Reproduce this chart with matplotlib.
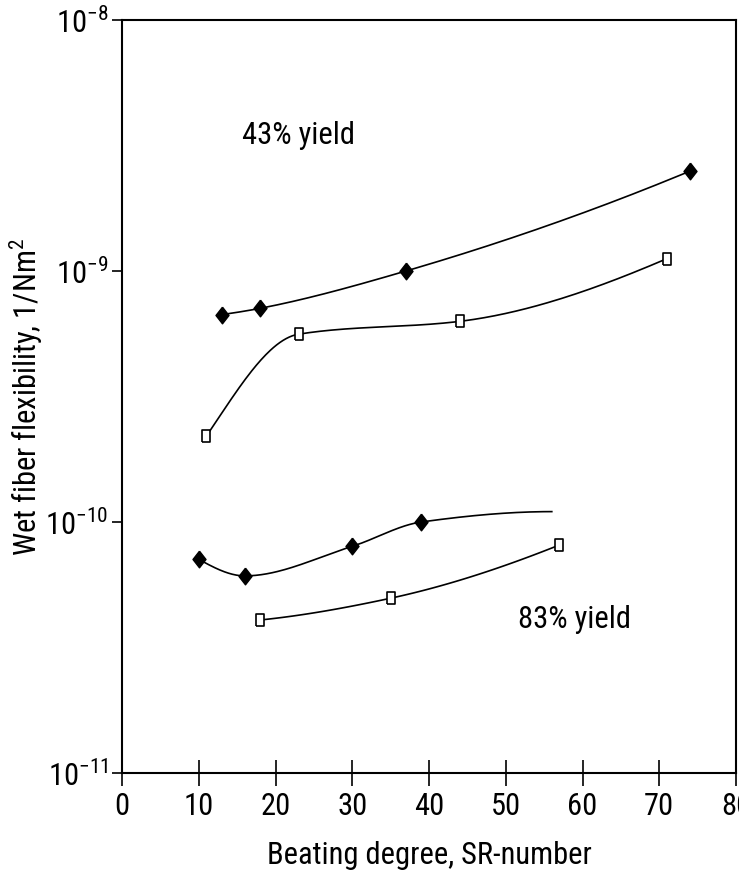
import numpy as np
import matplotlib
matplotlib.use('Agg')
from matplotlib import pyplot as plt
from matplotlib import ticker

FONT = 'Roboto Condensed'
FS = 22

plt.rcParams['font.family'] = [FONT, 'DejaVu Sans']
plt.rcParams['mathtext.fontset'] = 'custom'
plt.rcParams['mathtext.rm'] = FONT
plt.rcParams['mathtext.it'] = FONT
plt.rcParams['mathtext.default'] = 'regular'
plt.rcParams['axes.unicode_minus'] = False

# 43% yield
x43_dia = [13, 18, 37, 74]
y43_dia = [6.7e-10, 7.1e-10, 1.0e-9, 2.5e-9]
x43_sq = [11, 23, 44, 71]
y43_sq = [2.2e-10, 5.6e-10, 6.3e-10, 1.12e-9]

# 83% yield (diamond curve runs on past the last point)
x83_dia = [10, 16, 30, 39]
y83_dia = [7.1e-11, 6.1e-11, 8.0e-11, 1.0e-10]
x83_dia_end = 56
y83_dia_end = 1.1e-10
x83_sq = [18, 35, 57]
y83_sq = [4.07e-11, 4.97e-11, 8.1e-11]

xticks = [0, 10, 20, 30, 40, 50, 60, 70, 80]

# monotone cubic (pchip) through the points, in log space
def edge(h0, h1, d0, d1):
	m = ((2 * h0 + h1) * d0 - h0 * d1) / (h0 + h1)
	if np.sign(m) != np.sign(d0):
		m = 0.0
	elif np.sign(d0) != np.sign(d1) and abs(m) > abs(3 * d0):
		m = 3 * d0
	return m

def smooth(xs, ys, n=60):
	x = np.array(xs, float)
	y = np.log10(np.array(ys, float))
	h = np.diff(x)
	d = np.diff(y) / h
	k = len(x)
	m = np.zeros(k)
	for i in range(1, k - 1):
		if d[i - 1] * d[i] > 0:
			w1 = 2 * h[i] + h[i - 1]
			w2 = h[i] + 2 * h[i - 1]
			m[i] = (w1 + w2) / (w1 / d[i - 1] + w2 / d[i])
	m[0] = edge(h[0], h[1], d[0], d[1])
	m[-1] = edge(h[-1], h[-2], d[-1], d[-2])
	xx, yy = [], []
	for i in range(k - 1):
		t = np.linspace(0, 1, n)
		h00 = 2 * t ** 3 - 3 * t ** 2 + 1
		h10 = t ** 3 - 2 * t ** 2 + t
		h01 = -2 * t ** 3 + 3 * t ** 2
		h11 = t ** 3 - t ** 2
		xx.extend(x[i] + t * h[i])
		yy.extend(h00 * y[i] + h10 * h[i] * m[i] + h01 * y[i + 1] + h11 * h[i] * m[i + 1])
	return np.array(xx), 10 ** np.array(yy)

diamond = [(0, 1), (0.78, 0), (0, -1), (-0.78, 0), (0, 1)]
rect = [(-0.7, -1), (0.7, -1), (0.7, 1), (-0.7, 1), (-0.7, -1)]

fig = plt.figure(figsize=(7.39, 8.75), dpi=100)
ax = fig.add_axes([122 / 739, 102 / 875, 614 / 739, 753 / 875])

lw = 1.2
for xs, ys in [(x43_dia, y43_dia), (x43_sq, y43_sq), (x83_sq, y83_sq),
		(x83_dia + [x83_dia_end], y83_dia + [y83_dia_end])]:
	sx, sy = smooth(xs, ys)
	ax.plot(sx, sy, color='black', lw=lw, zorder=2)

ax.plot(x43_dia, y43_dia, ls='none', marker=diamond, ms=12, color='black', zorder=3)
ax.plot(x83_dia, y83_dia, ls='none', marker=diamond, ms=12, color='black', zorder=3)
ax.plot(x43_sq, y43_sq, ls='none', marker=rect, ms=8.5, mfc='white', mec='black', mew=1.2, zorder=3)
ax.plot(x83_sq, y83_sq, ls='none', marker=rect, ms=8.5, mfc='white', mec='black', mew=1.2, zorder=3)

ax.text(23, 3.48e-9, '43% yield', fontsize=FS, ha='center', va='center')
ax.text(59, 4.07e-11, '83% yield', fontsize=FS, ha='center', va='center')

ax.set_yscale('log')
ax.set_ylim(1e-11, 1e-8)
ax.set_xlim(0, 80)
ax.set_xticks(xticks)
ax.yaxis.set_minor_locator(ticker.NullLocator())

for s in ax.spines.values():
	s.set_linewidth(1.5)
ax.tick_params(axis='x', direction='inout', length=19, width=1.2, labelsize=FS, pad=4)
ax.tick_params(axis='y', direction='out', length=7, width=1.2, labelsize=FS, pad=3)

ax.set_xlabel('Beating degree, SR-number', fontsize=FS)
ax.set_ylabel('Wet fiber flexibility, 1/Nm$^2$', fontsize=FS)
ax.xaxis.set_label_coords(0.5, -0.09)
ax.yaxis.set_label_coords(-0.125, 0.5)

fig.savefig('out.png', dpi=100)
